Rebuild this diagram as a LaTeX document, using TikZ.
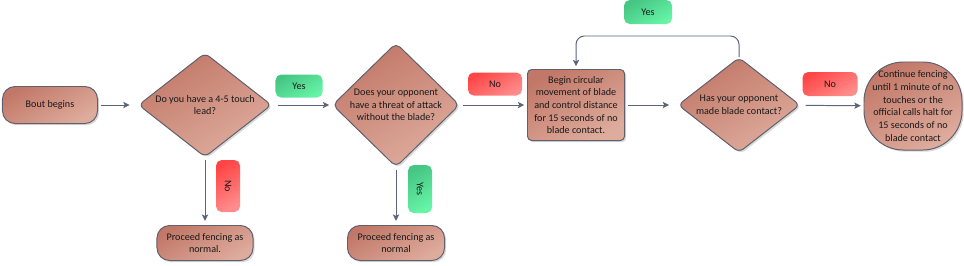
\documentclass[tikz,border=0pt]{standalone}
\usepackage{fontspec}
\setmainfont{Carlito}
\usetikzlibrary{shapes.geometric, arrows.meta, positioning, shadows}
\definecolor{boxdark}{RGB}{194,120,104}
\definecolor{boxlight}{RGB}{222,172,157}
\definecolor{boxline}{RGB}{95,95,110}
\definecolor{flowgray}{RGB}{90,100,122}
\definecolor{nodark}{RGB}{255,70,70}
\definecolor{nolight}{RGB}{255,140,140}
\definecolor{yesdark}{RGB}{70,198,132}
\definecolor{yeslight}{RGB}{102,244,166}

\begin{document}
\begin{tikzpicture}[
    x=0.025cm, y=-0.025cm,
    every node/.style={font=\fontsize{7.2}{9}\selectfont, text=black!90},
    shadowed/.style={drop shadow={opacity=0.3, shadow xshift=1.2pt, shadow yshift=-1.2pt}},
    filled/.style={
      draw=boxline, line width=0.7pt, shadowed,
      top color=boxdark, bottom color=boxlight, shading angle=30
    },
    terminal/.style={filled, rounded corners=9pt, align=center, inner sep=2pt},
    process/.style={filled, rounded corners=3pt, align=center, inner sep=2pt},
    decision/.style={filled, diamond, rounded corners=4pt, inner sep=0pt},
    qtext/.style={align=center, inner sep=0pt},
    tag/.style={rounded corners=4pt, inner sep=0pt, align=center},
    yestag/.style={tag, top color=yesdark, bottom color=yeslight, shading angle=30},
    notag/.style={tag, top color=nodark, bottom color=nolight, shading angle=30},
    flow/.style={draw=flowgray, line width=0.7pt,
      -{Stealth[length=4.5pt, width=4.5pt, inset=1pt]}, shorten >=2pt, shorten <=2pt}
  ]
    \useasboundingbox (0,0) rectangle (964,265);

    % Main row
    \node[terminal, minimum width=2.375cm, minimum height=0.925cm] (start) at (50,105) {Bout begins};
    \node[decision, minimum width=3.325cm, minimum height=2.6cm,
      label={[qtext]center:{Do you have a 4-5 touch\\lead?}}] (lead) at (205,105) {};
    \node[decision, minimum width=3.175cm, minimum height=3.1cm,
      label={[qtext]center:{Does your opponent\\have a threat of attack\\without the blade?}}] (threat) at (396,105) {};
    \node[process, minimum width=2.425cm, minimum height=1.775cm] (circ) at (576,105)
      {Begin circular\\movement of blade\\and control distance\\for 15 seconds of no\\blade contact.};
    \node[decision, minimum width=3.05cm, minimum height=2.375cm,
      label={[qtext]center:{Has your opponent\\made blade contact?}}] (contact) at (739,105) {};
    \node[filled, rounded corners=28pt, align=center, inner sep=1pt,
      minimum width=2.45cm, minimum height=2.2cm] (cont) at (913,106)
      {Continue fencing\\until 1 minute of no\\touches or the\\official calls halt for\\15 seconds of no\\blade contact};

    % Bottom row
    \node[terminal, minimum width=2.4cm, minimum height=0.875cm] (normA) at (205,243)
      {Proceed fencing as\\normal.};
    \node[terminal, minimum width=2.425cm, minimum height=0.875cm] (normB) at (396,243)
      {Proceed fencing as\\normal};

    % Connectors
    \draw[flow, shorten >=6pt] (start) -- (lead);
    \draw[flow, shorten <=4pt] (lead) -- (threat);
    \draw[flow] (threat) -- (circ);
    \draw[flow, shorten >=6pt] (circ) -- (contact);
    \draw[flow, shorten <=4pt] (contact) -- (cont);
    \draw[flow, shorten >=3pt] (lead) -- (normA);
    \draw[flow, shorten >=3pt] (threat) -- (normB);
    \draw[flow, rounded corners=6pt, shorten <=0pt] (contact.north) -- ++(0,-21) -| (circ.north);

    % Answer tags
    \node[yestag, minimum width=1.175cm, minimum height=0.575cm] (yesA) at (299,86) {Yes};
    \node[notag, minimum width=1.35cm, minimum height=0.575cm] (noA) at (495,84) {No};
    \node[yestag, minimum width=1.2cm, minimum height=0.6cm] (yesB) at (648,12) {Yes};
    \node[notag, minimum width=1.375cm, minimum height=0.6cm] (noB) at (830,84) {No};
    \node[notag, rotate=-90, minimum width=1.3cm, minimum height=0.6cm] (noC) at (228,186) {No};
    \node[yestag, rotate=-90, minimum width=1.2cm, minimum height=0.6cm] (yesC) at (420,189) {Yes};
\end{tikzpicture}
\end{document}
